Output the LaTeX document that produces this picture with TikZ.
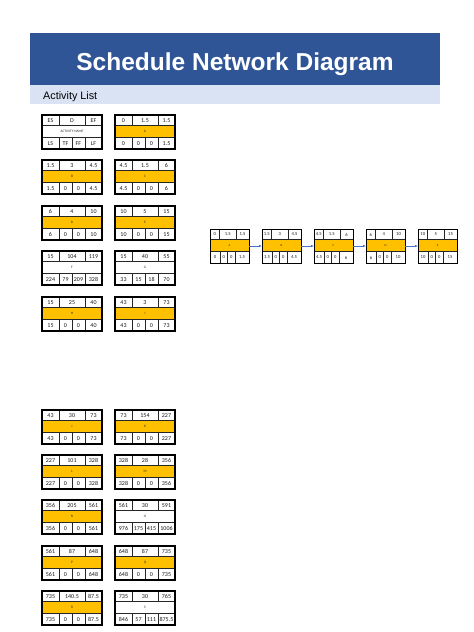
\documentclass[tikz,border=0pt]{standalone}
\usepackage{fontspec}
\setmainfont{Liberation Sans}
\newfontfamily\calibri{Carlito}
\usepackage{tikz}
\usetikzlibrary{arrows.meta}
\definecolor{titleblue}{HTML}{2F5597}
\definecolor{bandblue}{HTML}{DAE3F3}
\definecolor{actgold}{HTML}{FFC000}
\definecolor{linkblue}{HTML}{4472C4}
\tikzset{x=1pt, y=-1pt, >={Latex[length=3pt,width=2.4pt]}}
\tikzstyle{actframe} = [draw, line width=1.1pt, inner sep=0pt, outer sep=0pt]
\tikzstyle{gridline} = [draw=black!85, line width=0.5pt]
\tikzstyle{cell} = [inner sep=0pt, text=black!90, font=\calibri\fontsize{6}{6}\selectfont]
\tikzstyle{actname} = [inner sep=0pt, text=black!85, font=\calibri\fontsize{3.5}{3.5}\selectfont]
\tikzstyle{link} = [->, draw=linkblue, line width=0.5pt]
% one activity box: #1 width, #2/#3 top splits, #4/#5/#6 bottom splits
\newcommand{\actbox}[6]{%
	\path[fill=\f] ({\x},{\y+10.5}) rectangle ({\x+#1},{\y+22.5});
	\draw[gridline] ({\x},{\y+10.5}) -- ++(#1,0) ({\x},{\y+22.5}) -- ++(#1,0)
		({\x+#2},{\y}) -- ++(0,10.5) ({\x+#3},{\y}) -- ++(0,10.5)
		({\x+#4},{\y+22.5}) -- ++(0,11.5) ({\x+#5},{\y+22.5}) -- ++(0,11.5) ({\x+#6},{\y+22.5}) -- ++(0,11.5);
	\node[actframe, minimum width=#1pt, minimum height=34pt, anchor=north west] (act-\n) at (\x,\y) {};
	\node[cell] (act-\n-es) at ({\x+#2/2},{\y+5.5}) {\pes};
	\node[cell] (act-\n-d) at ({\x+(#2+#3)/2},{\y+5.5}) {\pdur};
	\node[cell] (act-\n-ef) at ({\x+(#3+#1)/2},{\y+5.5}) {\pef};
	\node[actname] (act-\n-name) at ({\x+#1/2},{\y+16.5}) {\plab};
	\node[cell] (act-\n-ls) at ({\x+#4/2},{\y+28.5}) {\pls};
	\node[cell] (act-\n-tf) at ({\x+(#4+#5)/2},{\y+28.5}) {\ptf};
	\node[cell] (act-\n-ff) at ({\x+(#5+#6)/2},{\y+28.5}) {\pff};
	\node[cell] (act-\n-lf) at ({\x+(#6+#1)/2},{\y+28.5}) {\plf};
}

\begin{document}
\begin{tikzpicture}
	\useasboundingbox (0,0) rectangle (474,632);

	% header
	\fill[titleblue] (30,33) rectangle (440,85);
	\fill[bandblue] (30,85) rectangle (440,104);
	\node[text=white, font=\bfseries\fontsize{24.5}{24.5}\selectfont, anchor=base] (title) at (235,70) {Schedule Network Diagram};
	\node[anchor=base west, inner sep=0pt, font=\fontsize{10.8}{10.8}\selectfont] (list-head) at (43,99.5) {Activity List};

	% activity list
	\foreach \n/\x/\y/\f/\pes/\pdur/\pef/\plab/\pls/\ptf/\pff/\plf in {
		legend/42/115/white/ES/D/EF/ACTIVITY NAME/LS/TF/FF/LF,
		A/115/115/actgold/0/1.5/1.5/A/0/0/0/1.5,
		B/42/160/actgold/1.5/3/4.5/B/1.5/0/0/4.5,
		C/115/160/actgold/4.5/1.5/6/C/4.5/0/0/6,
		D/42/206/actgold/6/4/10/D/6/0/0/10,
		E/115/206/actgold/10/5/15/E/10/0/0/15,
		F/42/251/white/15/104/119/F/224/79/209/328,
		G/115/251/white/15/40/55/G/33/15/18/70,
		H/42/297/actgold/15/25/40/H/15/0/0/40,
		I/115/297/actgold/43/3/73/I/43/0/0/73,
		J/42/410/actgold/43/30/73/J/43/0/0/73,
		K/115/410/actgold/73/154/227/K/73/0/0/227,
		L/42/455/actgold/227/101/328/L/227/0/0/328,
		M/115/455/actgold/328/28/356/M/328/0/0/356,
		N/42/500/actgold/356/205/561/N/356/0/0/561,
		O/115/500/white/561/30/591/O/976/175/415/1006,
		P/42/546/actgold/561/87/648/P/561/0/0/648,
		Q/115/546/actgold/648/87/735/Q/648/0/0/735,
		R/42/591/actgold/735/140.5/87.5/R/735/0/0/87.5,
		S/115/591/white/735/30/765/S/846/57/111/875.5}
		{\actbox{60}{17}{43}{17}{30}{43}}

	% network
	\begin{scope}[cell/.style={inner sep=0pt, text=black!90, font=\calibri\fontsize{4.6}{4.6}\selectfont},
		actname/.style={inner sep=0pt, text=black!85, font=\calibri\fontsize{3}{3}\selectfont},
		actframe/.append style={line width=0.9pt}]
		\foreach \n/\x/\y/\f/\pes/\pdur/\pef/\plab/\pls/\ptf/\pff/\plf in {
			netA/210/229/actgold/0/1.5/1.5/A/0/0/0/1.5,
			netB/262/229/actgold/1.5/3/4.5/B/1.5/0/0/4.5,
			netC/314/229/actgold/4.5/1.5/6/C/4.5/0/0/6,
			netD/366/229/actgold/6/4/10/D/6/0/0/10,
			netE/418/229/actgold/10/5/15/E/10/0/0/15}
			{\actbox{39}{9.5}{26}{10}{17.5}{25}}
	\end{scope}

	\draw[link] (act-netA) -- (act-netB);
	\draw[link] (act-netB) -- (act-netC);
	\draw[link] (act-netC) -- (act-netD);
	\draw[link] (act-netD) -- (act-netE);
\end{tikzpicture}
\end{document}
